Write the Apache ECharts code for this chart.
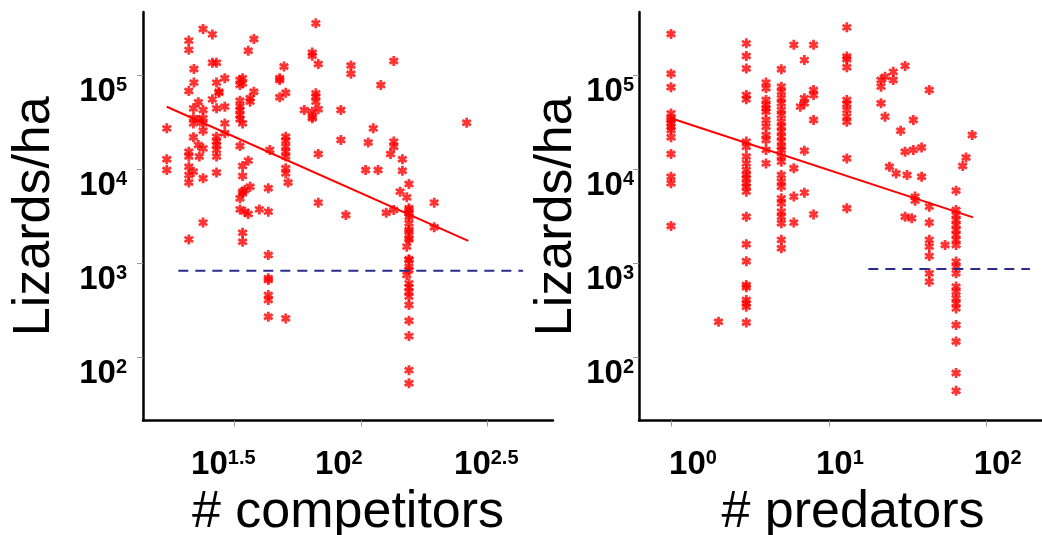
<!DOCTYPE html>
<html><head><meta charset="utf-8">
<script src="https://cdn.jsdelivr.net/npm/echarts@6/dist/echarts.min.js"></script>
<style>html,body{margin:0;padding:0;background:#fff}#c{width:1042px;height:535px}</style>
</head><body><div id="c"></div>
<script>
// ---------- DATA ----------
// Left panel: number of competitors vs lizards per hectare
const compX = [23.8,25.9,20.9,20.9,37.8,35.9,66.4,64.3,64.3,67.9,49.7,91.4,91.4,135,120,25.9,26.9,21.9,29.0,26.9,
  21.9,20.9,27.5,27.5,25.9,33.3,34.1,33.3,34.1,47.8,47.8,50.5,47.8,37.8,36.5,36.5,33.3,33.3,33.3,33.3,
  33.3,34.1,22.8,23.8,21.8,21.8,21.8,23.8,23.8,22.8,26.9,29.0,29.0,29.0,17.1,17.1,17.1,23.8,21.8,22.8,
  23.8,26.9,26.9,26.9,26.9,26.9,20.9,20.9,23.0,20.9,21.8,20.9,20.9,23.8,26.9,33.3,66.4,66.4,66.4,59.8,
  64.3,64.3,67.9,64.3,83.4,50.5,50.5,50.5,50.5,50.5,43.7,50.5,50.5,51.6,67.9,83.4,112,107,135,135,
  131,262,146,146,104.5,117,155,143,152,195,67.9,34.1,35.9,34.1,34.1,34.8,36.5,33.3,34.1,43.1,
  33.3,34.8,35.9,39.7,43.1,87.3,126,135,155,155,155,155,155,155,155,155,155,152,195,23.8,
  20.9,34.1,34.1,43.1,155,155,155,155,152,43.1,43.1,43.1,43.1,43.1,50.5,155,155,155,155,155,
  155,155,155,155];
const compY = [308000,270000,232000,185000,241000,181000,354000,173000,160000,131000,123000,126000,103000,141000,78300,135000,135000,116000,92300,83000,
  83000,67600,66500,64900,55100,88500,92300,78300,81500,92300,88500,64900,57900,66500,56500,52100,53300,46100,42500,37600,
  33800,30600,51300,42500,44200,34700,30600,34700,30600,33300,44200,46100,30600,24000,27100,12700,9800,25600,21800,18000,
  16600,22100,19600,18000,16000,13600,15300,13600,13600,10600,9400,8650,7200,7980,9200,17600,63800,58900,52100,42500,
  40800,36100,43200,34700,42500,22100,20000,17300,15300,13600,16000,10200,9000,7200,14500,20400,27100,19200,19600,17300,
  14500,31100,12700,9600,9800,9800,6950,5760,5010,4400,4400,10800,12300,8450,5760,6000,6500,4890,5520,6250,
  3730,3530,3330,3730,3530,3250,3440,3670,3670,3390,3830,3120,2660,2250,2160,1840,1790,1500,2410,2700,
  1790,2110,1690,1220,1080,1100,918,847,750,691,663,459,407,270,259,611,554,498,441,360,
  245,168,73,53];
// Right panel: number of predators vs lizards per hectare
const predX = [1,1,1,1,1,1,1,1,1,1,1,1,1,1,
  2,
  3,3,3,3,3,3,3,3,3,3,3,3,3,3,3,3,3,3,3,3,3,3,3,3,
  4,4,4,4,4,4,4,4,4,4,4,4,
  5,5,5,5,5,5,5,5,5,5,5,5,5,5,5,5,5,5,5,5,5,5,5,5,5,5,
  6,6,6,6,
  7,7,7,7,7,6.6,
  8,8,8,8,8,
  13,13,13,13,13,13,13,13,13,13,13,
  21.4,21.4,22.7,25.6,25.6,30.4,21.4,22.7,43.3,34.3,28.5,30.4,34.3,38.7,24.2,26.7,31.3,38.7,81,74,
  70.5,35.2,35.2,64,43.3,30.4,33.5,43.3,43.3,43.3,43.3,43.3,43.3,54.5,
  64,64,64,64,64,64,64,64,64,64,64,64,64,64,64,64,64,64,64,64];
const predY = [273000,103000,74000,39100,34700,33300,30600,28200,26000,21800,14500,8300,7060,2490,
  239,
  217000,159000,117000,61400,55100,19600,17300,13600,11500,9800,8650,7980,7060,6500,5760,3120,1590,1050,587,554,407,374,345,234,
  83000,72200,54200,48000,44200,40800,33300,28200,23000,20400,16000,11500,
  115000,75200,66500,56500,50000,42500,37600,31900,28200,25000,22100,19600,17300,16000,13600,12000,8650,7350,6500,4890,4330,3530,3120,2660,1770,1440,
  209000,10200,5100,2700,
  144000,56500,50000,15700,5620,46100,
  209000,69300,61400,33300,3300,
  321000,157000,147000,121000,54200,49200,42500,36100,31900,13000,3830,
  88500,75200,96000,108000,88500,125000,50000,36100,69300,33300,25600,15300,16000,17000,10600,9000,8650,8300,23000,13300,
  10800,5100,4620,5900,3990,3120,3000,2700,1770,1500,1190,780,637,1560,
  3670,3250,2880,2550,2250,2000,1770,1560,1040,918,780,564,498,424,374,331,220,147,68,44];
// Fitted regression lines (end points) and threshold dashed lines
const compFitX = [17.1, 266];
const compFitY = [46000, 1730];
const compRefX = [19.0, 438];
const compRefY = [830, 830];
const predFitX = [1, 82];
const predFitY = [34700, 3070];
const predRefX = [17.8, 188];
const predRefY = [870, 870];
// Tick exponents (labels are 10^exponent)
const compTickExp = [1.5, 2, 2.5];
const predTickExp = [0, 1, 2];
const densTickExp = [2, 3, 4, 5];

// ---------- CHART ----------
const FF = '"Liberation Sans", Arial, Helvetica, sans-serif';
const L10 = Math.log10;
function pairs(xs, ys){ return xs.map((x,i)=>[L10(x), L10(ys[i])]); }
function asteriskPath(){
  const L = 10, W = 2.8; let d = '';
  [90, 30, -30].forEach(a => {
    const r = a*Math.PI/180, c = Math.cos(r), s = Math.sin(r);
    const px = -s*W/2, py = c*W/2, ex = c*L/2, ey = s*L/2;
    const pts = [[ex+px,ey+py],[ex-px,ey-py],[-ex-px,-ey-py],[-ex+px,-ey+py]];
    d += 'M' + pts.map(p => p[0].toFixed(2)+' '+p[1].toFixed(2)).join('L') + 'Z';
  });
  return 'path://' + d;
}
const STAR = asteriskPath();
const rich = {
  b: {fontSize: 33, fontWeight: 'bold', fontFamily: FF, color: '#000'},
  s: {fontSize: 20, fontWeight: 'bold', fontFamily: FF, color: '#000', verticalAlign: 'top'}
};
// horizontal nudges of individual x tick labels (px, + = right), as placed in the original figure
const compLabelShift = [-11, -22, -1];
const predLabelShift = [22, 11, 11];
[...compLabelShift, ...predLabelShift].forEach(s => { rich['g' + Math.abs(s)] = {width: 2*Math.abs(s), fontSize: 10}; });
function supFmt(v){ return '{b|10}{s|' + (+(+v).toFixed(2)) + '}'; }
function supFmtShift(shifts, ticks){
  return function(v){
    const e = +(+v).toFixed(2);
    const k = ticks.indexOf(e);
    const s = k >= 0 ? shifts[k] : 0;
    const core = '{b|10}{s|' + e + '}';
    if (s > 0) return '{g' + s + '| }' + core;
    if (s < 0) return core + '{g' + (-s) + '| }';
    return core;
  };
}

function xAxisCfg(grid, min, max, ticks, shifts, name){
  return {
    gridIndex: grid, type: 'value', min: min, max: max,
    axisLine: {onZero: false, lineStyle: {color: '#000', width: 2.5}},
    axisTick: {show: true, customValues: ticks, length: 6, lineStyle: {color: '#999', width: 1}},
    axisLabel: {customValues: ticks, formatter: supFmtShift(shifts, ticks), rich: rich, margin: 28,
                fontFamily: FF, fontWeight: 'bold', fontSize: 33, color: '#000'},
    splitLine: {show: false},
    name: name, nameLocation: 'middle', nameGap: 60,
    nameTextStyle: {fontSize: 52, fontFamily: FF, color: '#000'}
  };
}
function yAxisCfg(grid, margin, gap){
  return {
    gridIndex: grid, type: 'value', min: 1.3284, max: 5.6695,
    axisLine: {onZero: false, lineStyle: {color: '#000', width: 2.5}},
    axisTick: {show: true, customValues: densTickExp, length: 6, lineStyle: {color: '#999', width: 1}},
    axisLabel: {customValues: densTickExp, formatter: supFmt, rich: rich, margin: margin, padding: [34,0,0,0],
                fontFamily: FF, fontWeight: 'bold', fontSize: 33, color: '#000'},
    splitLine: {show: false},
    name: 'Lizards/ha', nameLocation: 'middle', nameGap: gap,
    nameTextStyle: {fontSize: 52, fontFamily: FF, color: '#000'}
  };
}
function scatter(i, xs, ys){
  return {type: 'scatter', xAxisIndex: i, yAxisIndex: i, data: pairs(xs, ys),
          symbol: STAR, symbolSize: 10, itemStyle: {color: '#ff0000'}, z: 2};
}
function line(i, xs, ys, color, type){
  return {type: 'line', xAxisIndex: i, yAxisIndex: i, data: pairs(xs, ys), symbol: 'none',
          lineStyle: {color: color, width: 2, type: type}, z: 3};
}

const chart = echarts.init(document.getElementById('c'), null, {renderer: 'canvas'});
chart.setOption({
  animation: false,
  backgroundColor: '#fff',
  grid: [
    {left: 143, top: 12, width: 410, height: 408.5, containLabel: false, outerBoundsMode: 'none'},
    {left: 639, top: 12, width: 428, height: 408.5, containLabel: false, outerBoundsMode: 'none'}
  ],
  xAxis: [
    xAxisCfg(0, 1.1391, 2.7597, compTickExp, compLabelShift, '# competitors'),
    xAxisCfg(1, -0.2028, 2.509, predTickExp, predLabelShift, '# predators')
  ],
  yAxis: [ yAxisCfg(0, 16, 82), yAxisCfg(1, 5, 50) ],
  series: [
    scatter(0, compX, compY),
    scatter(1, predX, predY),
    line(0, compFitX, compFitY, '#ff0000', 'solid'),
    line(1, predFitX, predFitY, '#ff0000', 'solid'),
    line(0, compRefX, compRefY, '#2b2b8c', [10, 7]),
    line(1, predRefX, predRefY, '#2b2b8c', [10, 7])
  ]
});
</script></body></html>
